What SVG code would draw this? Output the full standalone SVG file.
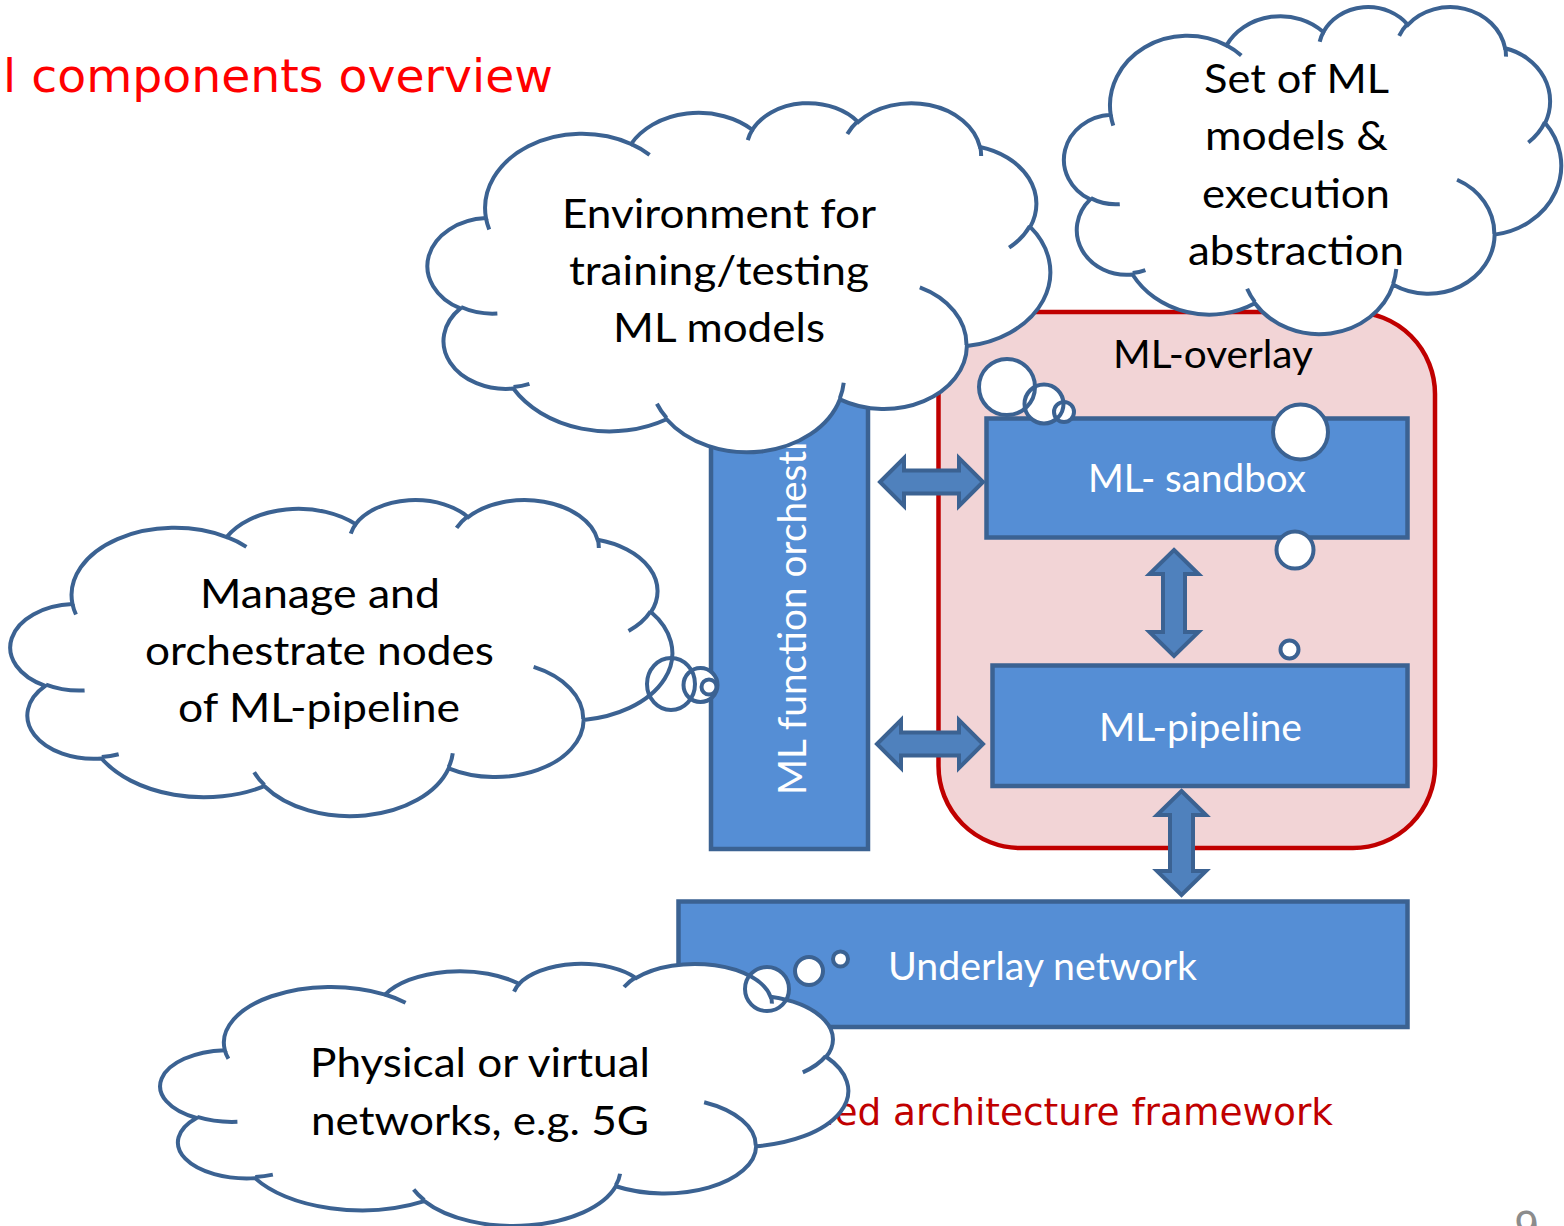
<svg xmlns="http://www.w3.org/2000/svg" xmlns:xlink="http://www.w3.org/1999/xlink" width="1564" height="1226" viewBox="0 0 1564 1226">
  <style>
    .title { font-family: "DejaVu Sans", Verdana, sans-serif; }
    .label { font-family: Lato, "Open Sans", sans-serif; }
    .cloud-text { font-family: Lato, "Open Sans", sans-serif; font-size: 40px; fill: #000; text-anchor: middle; }
    .box { fill: #558ed5; stroke: #3b6292; stroke-width: 4.5; }
    .box-text { font-family: Lato, "Open Sans", sans-serif; font-size: 39px; fill: #fff; text-anchor: middle; }
    .box-text.vertical { text-anchor: start; }
    .arrow { fill: #4f81bd; stroke: #3b6292; stroke-width: 4; stroke-linejoin: miter; }
    .cf { fill: #fff; stroke: none; }
    .cs { fill: none; stroke: #3b6292; stroke-width: 4; }
  </style>
  <defs>
    <!-- cloud outline in 43200-unit space -->
    <path id="cloudBody" vector-effect="non-scaling-stroke" d="M3900 14370 A6753 9190 0 0 1 14006 5203 A5333 7267 0 0 1 22458 3433 A4365 5945 0 0 1 29835 2481 A4857 6595 0 0 1 38320 5576 A5333 7273 0 0 1 41821 15460 A6775 9220 0 0 1 37407 30204 A5785 7867 0 0 1 28558 36814 A6752 9215 0 0 1 16484 39267 A7720 10543 0 0 1 5807 35471 A4360 5918 0 0 1 2116 25549 A4345 5945 0 0 1 3900 14370 Z"/>
    <!-- inner crease arcs of the cloud -->
    <path id="cloudCreases" vector-effect="non-scaling-stroke" d="M4693 26177 A4345 5945 0 0 1 2160 25380 M6928 34899 A4360 5918 0 0 1 5819 35281 M16478 39090 A6752 9215 0 0 1 15809 37349 M28827 34751 A6752 9215 0 0 1 28560 36660 M34129 22954 A5785 7867 0 0 1 37381 30090 M41798 15354 A5333 7273 0 0 1 40350 18030 M38324 5426 A4857 6595 0 0 1 38400 6690 M29078 3952 A4857 6595 0 0 1 29820 2340 M22141 4720 A4365 5945 0 0 1 22500 3331 M14000 5192 A6753 9190 0 0 1 15300 6541 M4127 15789 A6753 9190 0 0 1 3900 14371"/>
  </defs>

  <!-- slide heading and caption -->
  <text class="title" x="3" y="92" font-size="46" fill="#ff0000" textLength="550" lengthAdjust="spacingAndGlyphs">l components overview</text>
  <text class="title" x="824" y="1125" font-size="38" fill="#c00000" textLength="509" lengthAdjust="spacingAndGlyphs">ied architecture framework</text>
  <text class="title" x="1514" y="1241" font-size="40" fill="#8c8c8c">9</text>

  <!-- overlay container -->
  <g id="ml-overlay">
    <rect x="938.5" y="312" width="496.5" height="536" rx="82" ry="82" fill="#f2d4d6" stroke="#c00000" stroke-width="4.5"/>
    <text class="label" x="1213" y="368" font-size="39" fill="#000" text-anchor="middle" textLength="200" lengthAdjust="spacingAndGlyphs">ML-overlay</text>
  </g>

  <g id="ml-orchestrator">
    <rect class="box" x="711" y="380" width="157" height="469"/>
    <text class="box-text vertical" transform="translate(806 795) rotate(-90)" textLength="427" lengthAdjust="spacingAndGlyphs">ML function orchestrator</text>
  </g>

  <g id="ml-sandbox">
    <rect class="box" x="986.5" y="418.5" width="421" height="119"/>
    <text class="box-text" x="1197" y="492" textLength="218" lengthAdjust="spacingAndGlyphs">ML- sandbox</text>
  </g>

  <g id="ml-pipeline">
    <rect class="box" x="992.5" y="665.5" width="415" height="120.5"/>
    <text class="box-text" x="1200.5" y="741" textLength="203" lengthAdjust="spacingAndGlyphs">ML-pipeline</text>
  </g>

  <g id="underlay-network">
    <rect class="box" x="678.5" y="901.5" width="729" height="125.5"/>
    <text class="box-text" x="1042.5" y="980" textLength="309" lengthAdjust="spacingAndGlyphs">Underlay network</text>
  </g>

  <!-- double-headed block arrows -->
  <g id="connectors">
    <path class="arrow" d="M880 482 L904 458 L904 470.5 L959 470.5 L959 458 L983 482 L959 506 L959 493.5 L904 493.5 L904 506 Z"/>
    <path class="arrow" d="M877 744 L901 720 L901 732.5 L959 732.5 L959 720 L983 744 L959 768 L959 755.5 L901 755.5 L901 768 Z"/>
    <path class="arrow" d="M1174 550 L1198.5 574 L1185 574 L1185 632 L1198.5 632 L1174 656 L1149.5 632 L1163 632 L1163 574 L1149.5 574 Z"/>
    <path class="arrow" d="M1181.5 791 L1206 815 L1193 815 L1193 871 L1206 871 L1181.5 895 L1157 871 L1170 871 L1170 815 L1157 815 Z"/>
  </g>

  <!-- callout: training environment -->
  <g id="cloud-environment">
    <use href="#cloudBody" class="cf" transform="translate(430 102) scale(0.014352 0.0080787)"/>
    <circle class="cf" cx="1007" cy="387" r="28"/>
    <circle class="cf" cx="1044" cy="404" r="19.5"/>
    <circle class="cf" cx="1064" cy="412" r="10"/>
    <use href="#cloudBody" class="cs" transform="translate(430 102) scale(0.014352 0.0080787)"/>
    <use href="#cloudCreases" class="cs" transform="translate(430 102) scale(0.014352 0.0080787)"/>
    <circle class="cs" cx="1007" cy="387" r="28"/>
    <circle class="cs" cx="1044" cy="404" r="19.5"/>
    <circle class="cs" cx="1064" cy="412" r="10"/>
    <text class="cloud-text" x="719" y="228" textLength="314" lengthAdjust="spacingAndGlyphs">Environment for</text>
    <text class="cloud-text" x="719" y="285" textLength="300" lengthAdjust="spacingAndGlyphs">training/testing</text>
    <text class="cloud-text" x="719" y="342" textLength="212" lengthAdjust="spacingAndGlyphs">ML models</text>
  </g>

  <!-- callout: model set -->
  <g id="cloud-models">
    <use href="#cloudBody" class="cf" transform="translate(1066 6) scale(0.011458 0.0075694)"/>
    <circle class="cf" cx="1300.5" cy="432" r="27.5"/>
    <circle class="cf" cx="1295" cy="550" r="18.5"/>
    <circle class="cf" cx="1289.5" cy="649.5" r="9"/>
    <use href="#cloudBody" class="cs" transform="translate(1066 6) scale(0.011458 0.0075694)"/>
    <use href="#cloudCreases" class="cs" transform="translate(1066 6) scale(0.011458 0.0075694)"/>
    <circle class="cs" cx="1300.5" cy="432" r="27.5"/>
    <circle class="cs" cx="1295" cy="550" r="18.5"/>
    <circle class="cs" cx="1289.5" cy="649.5" r="9"/>
    <text class="cloud-text" x="1296.5" y="93" textLength="185" lengthAdjust="spacingAndGlyphs">Set of ML</text>
    <text class="cloud-text" x="1296.5" y="150" textLength="183" lengthAdjust="spacingAndGlyphs">models &amp;</text>
    <text class="cloud-text" x="1296" y="208" textLength="188" lengthAdjust="spacingAndGlyphs">execution</text>
    <text class="cloud-text" x="1296" y="265" textLength="216" lengthAdjust="spacingAndGlyphs">abstraction</text>
  </g>

  <!-- callout: orchestration -->
  <g id="cloud-orchestration">
    <use href="#cloudBody" class="cf" transform="translate(13 499) scale(0.015255 0.0073148)"/>
    <ellipse class="cf" cx="671" cy="684" rx="24" ry="26"/>
    <circle class="cf" cx="700.5" cy="685" r="17"/>
    <circle class="cf" cx="709" cy="687" r="7.5"/>
    <use href="#cloudBody" class="cs" transform="translate(13 499) scale(0.015255 0.0073148)"/>
    <use href="#cloudCreases" class="cs" transform="translate(13 499) scale(0.015255 0.0073148)"/>
    <ellipse class="cs" cx="671" cy="684" rx="24" ry="26"/>
    <circle class="cs" cx="700.5" cy="685" r="17"/>
    <circle class="cs" cx="709" cy="687" r="7.5"/>
    <text class="cloud-text" x="320" y="608" textLength="240" lengthAdjust="spacingAndGlyphs">Manage and</text>
    <text class="cloud-text" x="319.5" y="665" textLength="349" lengthAdjust="spacingAndGlyphs">orchestrate nodes</text>
    <text class="cloud-text" x="319" y="722" textLength="282" lengthAdjust="spacingAndGlyphs">of ML-pipeline</text>
  </g>

  <!-- callout: physical networks -->
  <g id="cloud-networks">
    <use href="#cloudBody" class="cf" transform="translate(163 963) scale(0.015856 0.0060648)"/>
    <circle class="cf" cx="767" cy="989" r="22"/>
    <circle class="cf" cx="809" cy="971" r="14"/>
    <circle class="cf" cx="840.5" cy="959" r="7.5"/>
    <use href="#cloudBody" class="cs" transform="translate(163 963) scale(0.015856 0.0060648)"/>
    <use href="#cloudCreases" class="cs" transform="translate(163 963) scale(0.015856 0.0060648)"/>
    <circle class="cs" cx="767" cy="989" r="22"/>
    <circle class="cs" cx="809" cy="971" r="14"/>
    <circle class="cs" cx="840.5" cy="959" r="7.5"/>
    <text class="cloud-text" x="480" y="1077" textLength="340" lengthAdjust="spacingAndGlyphs">Physical or virtual</text>
    <text class="cloud-text" x="480" y="1135" textLength="338" lengthAdjust="spacingAndGlyphs">networks, e.g. 5G</text>
  </g>
</svg>
